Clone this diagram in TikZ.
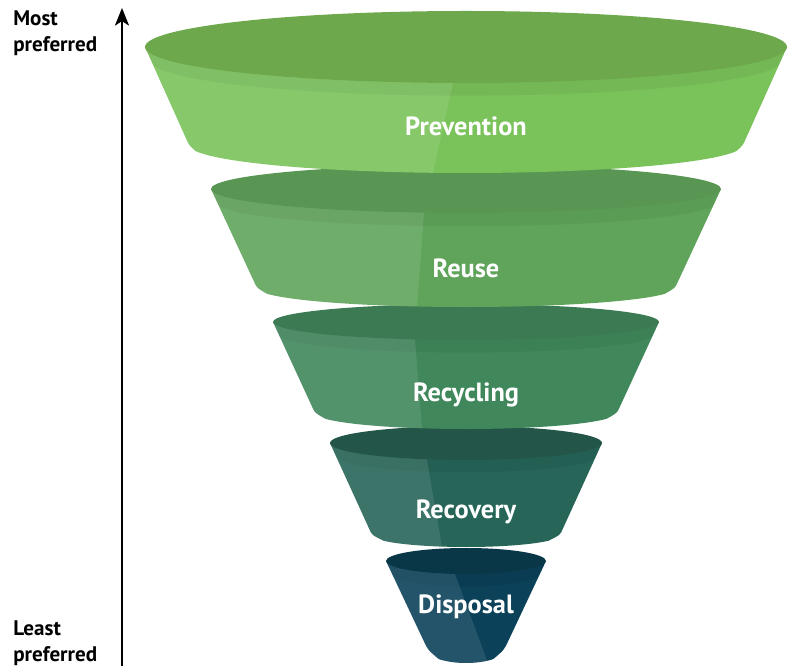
\documentclass[tikz,border=0pt]{standalone}
\usepackage{fontspec}
\setmainfont{PT Sans}
\usetikzlibrary{calc,arrows.meta}
\definecolor{preventiontop}{HTML}{6DA94C}
\definecolor{preventionbody}{HTML}{7AC25A}
\definecolor{reusetop}{HTML}{599654}
\definecolor{reusebody}{HTML}{5FA45A}
\definecolor{recyclingtop}{HTML}{3C7A53}
\definecolor{recyclingbody}{HTML}{40875B}
\definecolor{recoverytop}{HTML}{235549}
\definecolor{recoverybody}{HTML}{266558}
\definecolor{disposaltop}{HTML}{0A3747}
\definecolor{disposalbody}{HTML}{0B4159}
\begin{document}
\begin{tikzpicture}[x=0.02cm, y=0.02cm]
	\tikzstyle{stage} = [text=white, font=\bfseries\fontsize{15}{17}\selectfont, inner sep=0pt]
	\tikzstyle{side} = [anchor=west, align=left, font=\bfseries\fontsize{12}{15}\selectfont, inner sep=0pt]
	\tikzstyle{axis} = [draw, -{Stealth[length=10pt, width=8pt, inset=2.5pt]}, line width=1.2pt]
	\useasboundingbox (0,0) rectangle (787,666);
	% Funnel stages, lowest first
	\foreach \nm/\txt/\yT/\rT/\ryT/\yB/\rB/\ryB/\sT/\sB/\rc/\ly in {
		disposal/Disposal/105/80/13/16/38/13/455/488/10/59,
		recovery/Recovery/223/136/17/131/94/12/427/442/6/154,
		recycling/Recycling/344/193/18/253/151/16/415/422/6/271,
		reuse/Reuse/477/255/24/378/209/19/424/417/6/398,
		prevention/Prevention/619/321/36/521/277/28/453/433/6/540} {
		\pgfmathsetmacro\yb{\yT+0.14*(\yB-\yT)}
		\pgfmathsetmacro\rb{\rT+0.14*(\rB-\rT)}
		\pgfmathsetmacro\ryb{\ryT+0.14*(\ryB-\ryT)}
		\pgfmathsetmacro\dl{deg(\rc/\ryB)}
		\pgfmathsetlengthmacro\rcd{\rc*0.02cm}
		\coordinate (\nm-tl) at ({466-\rT},\yT);
		\coordinate (\nm-tr) at ({466+\rT},\yT);
		\coordinate (\nm-bl) at ({466-\rB},\yB);
		\coordinate (\nm-br) at ({466+\rB},\yB);
		\coordinate (\nm-p) at (\sT,{\yT-\ryT});
		\coordinate (\nm-q) at (\sB,{\yB-\ryB});
		\def\bodyshape{(\nm-tl) -- ($(\nm-bl)!\rcd!(\nm-tl)$)
			.. controls (\nm-bl) .. ({466-\rB*cos(\dl)},{\yB-\ryB*sin(\dl)})
			arc[start angle={180+\dl}, end angle={360-\dl}, x radius=\rB, y radius=\ryB]
			.. controls (\nm-br) .. ($(\nm-br)!\rcd!(\nm-tr)$) -- (\nm-tr) -- cycle}
		% body and band
		\fill[\nm body] \bodyshape;
		\fill[black, opacity=0.05] (\nm-tl) arc[start angle=180, end angle=360, x radius=\rT, y radius=\ryT]
			-- ({466+\rb},\yb) arc[start angle=360, end angle=180, x radius=\rb, y radius=\ryb] -- cycle;
		% lighter left side
		\begin{scope}
			\clip \bodyshape;
			\clip (0,-400) -- (0,900) -- ($(\nm-p)!-3!(\nm-q)$) -- ($(\nm-q)!-3!(\nm-p)$) -- cycle;
			\fill[white, opacity=0.1] (0,-400) rectangle (787,900);
		\end{scope}
		% top
		\fill[\nm top] (466,\yT) ellipse[x radius=\rT, y radius=\ryT];
		\node[stage] (\nm) at (466,\ly) {\txt};
	}
	% Axis
	\coordinate (axisbottom) at (122,0);
	\coordinate (axistop) at (122,658);
	\path[axis] (axisbottom) -- (axistop);
	\node[side] (most) at (13,633) {Most\\preferred};
	\node[side] (least) at (13,23) {Least\\preferred};
\end{tikzpicture}
\end{document}
